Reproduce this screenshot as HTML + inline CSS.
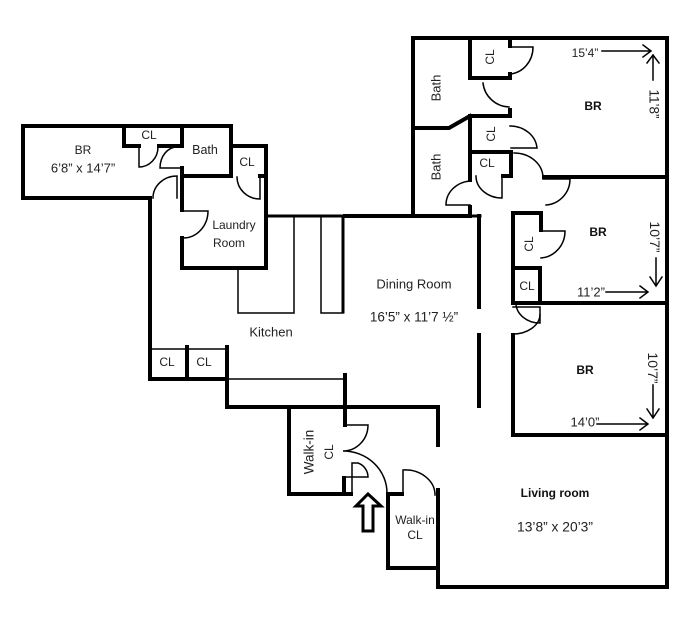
<!DOCTYPE html>
<html><head><meta charset="utf-8"><style>
html,body{margin:0;padding:0;background:#fff}
svg{display:block}
text{font-family:"Liberation Sans",sans-serif;font-size:12px;fill:#222;text-anchor:middle;dominant-baseline:central}
.b{font-weight:bold;fill:#111}
</style></head><body>
<svg width="694" height="631" viewBox="0 0 694 631" xmlns="http://www.w3.org/2000/svg">
<defs><filter id="s" x="-5%" y="-5%" width="110%" height="110%"><feGaussianBlur stdDeviation="0.35"/></filter></defs>
<g filter="url(#s)" fill="none" stroke="#000" stroke-linecap="square">
<g stroke-width="4">
<path d="M413 38H667V587H438V490"/>
<path d="M470 38V78H510V74M510 38V46"/>
<path d="M510 110V116H470V180M470 116L449 128H413M413 38V216"/>
<path d="M470 152H511V176H503"/>
<path d="M470 207V216H345M544 177H667"/>
<path d="M479 216V307M479 335V406"/>
<path d="M516 303H667M541 213V230M513 213H541V213M513 213V303M513 268H540V303M513 335V435H667"/>
<path d="M23 126H231V176H183M23 126V198H150V379H227M124 126V146H139M159 146H182V126M182 168V210M182 238V268H266V146H231M260 176H266"/>
<path d="M187 347V379M227 347V407H438V445M345 375V425"/>
<path d="M289 408V494H351M344 478V494"/>
<path d="M388 494V568H436M388 494H402"/>
</g>
<g stroke-width="3"><path d="M266 216H480"/><path d="M343 217V312"/></g>
<g stroke-width="1.5">
<path d="M510 47H533A25 27 0 0 1 510 74"/>
<path d="M483 83A27 27 0 0 0 509 107"/>
<path d="M510 126A27 24 0 0 1 537 148H511"/>
<path d="M514 153A29 25 0 0 1 543 177"/>
<path d="M543 179H570A26 26 0 0 1 546 205"/>
<path d="M470 181A26 24 0 0 0 446 205H470"/>
<path d="M502 177V198A26 22 0 0 1 476 176"/>
<path d="M541 231H565A26 27 0 0 1 541 258"/>
<path d="M513 307H540V323A24 20 0 0 1 516 303"/>
<path d="M540 315A27 20 0 0 1 513 334"/>
<path d="M139 147V167A19 20 0 0 0 158 147"/>
<path d="M177 147A17 21 0 0 0 160 168H182"/>
<path d="M177 176V198M153 198A24 22 0 0 1 177 176"/>
<path d="M237 177A23 22 0 0 0 260 199V178"/>
<path d="M182 211H208A25 27 0 0 1 183 238"/>
<path d="M238 268V313H294V216M321 216V313H343"/>
<path d="M150 349H227M227 379H345"/>
<path d="M345 425H368A25 26 0 0 1 343 451A44 42 0 0 1 387 493"/>
<path d="M352 494V463H358A15 15 0 0 1 368 477H345"/>
<path d="M403 494V470A30 25 0 0 1 435 495"/>
<path d="M602 51H650M643 45L651 51L643 57"/>
<path d="M653 80V55M647 63L653 55L659 63"/>
<path d="M656 258V285M650 277L656 286L662 277"/>
<path d="M606 292H647M640 286L648 292L640 298"/>
<path d="M653 385V417M647 409L653 418L659 409"/>
<path d="M597 424H647M640 418L648 424L640 430"/>
</g>
<path d="M368 494L381 506H373V531H363V506H356Z" stroke-width="3" stroke-linecap="butt" stroke-linejoin="miter"/>
</g>
<text x="83" y="150">BR</text>
<text x="83" y="168" style="font-size:13px">6’8” x 14’7”</text>
<text x="149" y="135">CL</text>
<text x="205" y="150" style="font-size:12.5px">Bath</text>
<text x="247" y="162">CL</text>
<text x="234" y="225">Laundry</text>
<text x="229" y="243">Room</text>
<text x="271" y="332" style="font-size:13px">Kitchen</text>
<text x="414" y="284" style="font-size:13px">Dining Room</text>
<text x="414" y="317" style="font-size:13.5px">16’5” x 11’7 ½”</text>
<text x="167" y="362">CL</text>
<text x="204" y="362">CL</text>
<text x="309" y="452" transform="rotate(-90 309 452)" style="font-size:13.5px">Walk-in</text>
<text x="329" y="452" transform="rotate(-90 329 452)">CL</text>
<text x="415" y="520">Walk-in</text>
<text x="415" y="535">CL</text>
<text x="490" y="57" transform="rotate(-90 490 57)">CL</text>
<text x="436" y="88" transform="rotate(-90 436 88)" style="font-size:13px">Bath</text>
<text x="491" y="134" transform="rotate(-90 491 134)">CL</text>
<text x="487" y="163">CL</text>
<text x="436" y="167" transform="rotate(-90 436 167)" style="font-size:13px">Bath</text>
<text x="529" y="244" transform="rotate(-90 529 244)">CL</text>
<text x="527" y="286">CL</text>
<text class="b" x="593" y="106">BR</text>
<text class="b" x="598" y="232">BR</text>
<text class="b" x="585" y="370">BR</text>
<text x="585" y="53">15’4”</text>
<text x="654" y="104" transform="rotate(90 654 104)" style="font-size:13.5px">11’8”</text>
<text x="655" y="237" transform="rotate(90 655 237)" style="font-size:14px">10’7”</text>
<text x="591" y="292" style="font-size:13px">11’2”</text>
<text x="653" y="368" transform="rotate(90 653 368)" style="font-size:14px">10’7”</text>
<text x="585" y="422" style="font-size:13px">14’0”</text>
<text class="b" x="555" y="493">Living room</text>
<text x="555" y="527" style="font-size:13.8px">13’8” x 20’3”</text>
</svg>
</body></html>
